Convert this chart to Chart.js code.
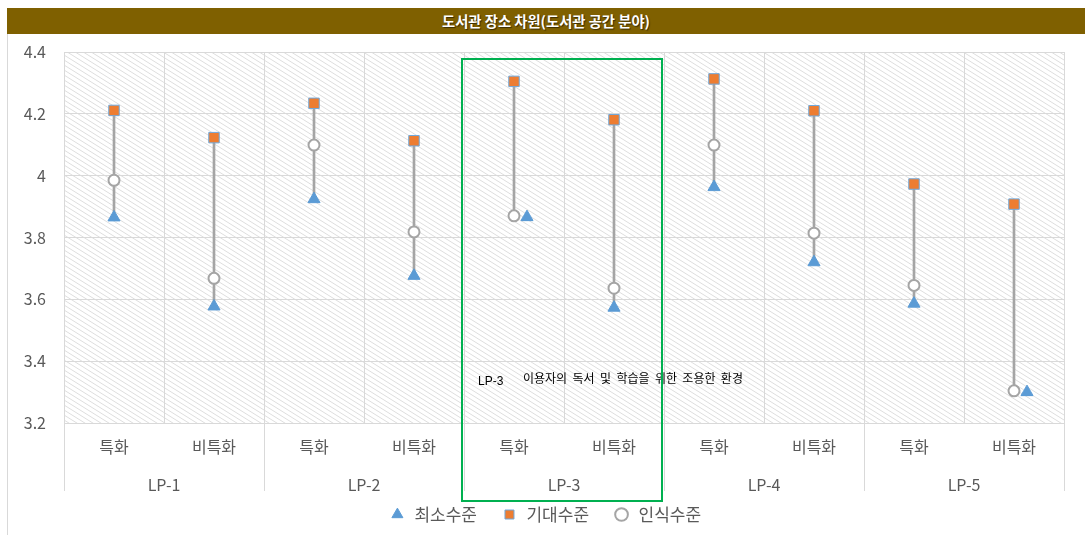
<!DOCTYPE html>
<html><head><meta charset="utf-8">
<script src="https://cdn.jsdelivr.net/npm/chart.js@4"></script>
<style>
body{margin:0;background:#fff;width:1085px;height:535px;overflow:hidden;position:relative;font-family:"Noto Sans CJK KR";}
#frame{position:absolute;left:7px;top:8px;width:1078px;height:527px;border-left:1px solid #d9d9d9;box-sizing:border-box;}
#title{position:absolute;left:7px;top:8px;width:1078px;height:26px;background:#7f6000;color:#fff;font:bold 14.3px "Noto Sans CJK KR";text-align:center;line-height:26px;text-shadow:1px 1px 1px rgba(0,0,0,0.55);z-index:2}
#wrap{position:absolute;left:0;top:0;width:1085px;height:535px;}
</style></head>
<body>
<div id="frame"></div>
<div id="wrap"><canvas id="c"></canvas></div>
<div id="title">도서관 장소 차원(도서관 공간 분야)</div>
<script>
// ---- data ----
const groups = ['LP-1','LP-2','LP-3','LP-4','LP-5'];
const subLabels = ['특화','비특화'];
const categories = ['특화','비특화','특화','비특화','특화','비특화','특화','비특화','특화','비특화'];
const seriesNames = ['최소수준','기대수준','인식수준'];
const minimumLevel  = [3.865,3.577,3.924,3.676,3.866,3.573,3.963,3.720,3.586,3.300];
const expectedLevel = [4.211,4.123,4.234,4.113,4.305,4.181,4.313,4.210,3.973,3.908];
const perceivedLevel= [3.985,3.668,4.099,3.818,3.870,3.636,4.099,3.814,3.645,3.304];
const yTicks = [3.2,3.4,3.6,3.8,4.0,4.2,4.4];
const noteLabel = 'LP-3';
const noteText = '이용자의 독서 및 학습을 위한 조용한 환경';

// ---- styles ----
const BLUE = '#5b9bd5', ORANGE = '#ed7d31', GRAY = '#a5a5a5', GRID = '#d9d9d9', TXT = '#595959';
const FONT = '"Noto Sans CJK KR", "Noto Sans", sans-serif';
const TRI_R = 7;

function shiftedTriangle(r, off){
  const c = document.createElement('canvas');
  c.width = 2*(off + r + 2); c.height = 2*(r + 2);
  const g = c.getContext('2d');
  const cx = c.width/2 + off, cy = c.height/2;
  g.beginPath();
  g.moveTo(cx, cy - r);
  g.lineTo(cx + 0.866*r, cy + 0.5*r);
  g.lineTo(cx - 0.866*r, cy + 0.5*r);
  g.closePath();
  g.fillStyle = BLUE; g.fill();
  g.lineWidth = 1; g.strokeStyle = BLUE; g.stroke();
  return c;
}
const shiftedTri = shiftedTriangle(TRI_R, 13);

const rangeData = expectedLevel.map((e,i)=>[Math.min(minimumLevel[i], perceivedLevel[i]), e]);

function makePattern(ctx){
  const t = document.createElement('canvas');
  t.width = 8; t.height = 5;
  const g = t.getContext('2d');
  g.fillStyle = '#ffffff'; g.fillRect(0,0,8,5);
  g.strokeStyle = '#dedede'; g.lineWidth = 1;
  g.beginPath();
  g.moveTo(-8,-5); g.lineTo(16,10);
  g.moveTo(-8,0); g.lineTo(8,10);
  g.moveTo(0,-5); g.lineTo(16,5);
  g.stroke();
  return ctx.createPattern(t, 'repeat');
}

const hatchPlugin = {
  id: 'hatch',
  afterLayout(chart){
    const l = chart.legend;
    if (l) { l.left += 9; l.right += 9; l.top += 6; l.bottom += 6; }
  },
  beforeDraw(chart){
    const {ctx, chartArea:a} = chart;
    ctx.save();
    ctx.fillStyle = makePattern(ctx);
    ctx.fillRect(a.left, a.top, a.right-a.left, a.bottom-a.top);
    ctx.restore();
  }
};

const extrasPlugin = {
  id: 'extras',
  afterDraw(chart){
    const {ctx, chartArea:a, scales} = chart;
    const x = scales.x, y = scales.y;
    const cw = x.getPixelForValue(1) - x.getPixelForValue(0);
    ctx.save();
    // group separators in label area
    ctx.strokeStyle = GRID; ctx.lineWidth = 1;
    for (let gI = 0; gI <= groups.length; gI++){
      const px = Math.round(x.getPixelForValue(gI*2) - cw/2) + 0.5;
      ctx.beginPath(); ctx.moveTo(px, a.bottom); ctx.lineTo(px, a.bottom + 68); ctx.stroke();
    }
    // group labels
    ctx.fillStyle = TXT;
    ctx.font = '16px ' + FONT;
    ctx.textAlign = 'center';
    ctx.textBaseline = 'middle';
    groups.forEach((gname, gI) => {
      const px = (x.getPixelForValue(gI*2) + x.getPixelForValue(gI*2+1)) / 2;
      ctx.fillText(gname, px, a.bottom + 62);
    });
    // annotation
    const cx = x.getPixelForValue(4);
    ctx.fillStyle = '#000';
    ctx.textAlign = 'left';
    ctx.font = '12px "Liberation Sans", Arial, sans-serif';
    ctx.fillText(noteLabel, cx - 36, y.getPixelForValue(3.335));
    ctx.font = '12px ' + FONT;
    ctx.fillText(noteText.split(' ').join('  '), cx + 9, y.getPixelForValue(3.345));
    // highlight box
    const gi = groups.indexOf(noteLabel);
    const left = x.getPixelForValue(gi*2) - cw/2 - 2;
    const right = x.getPixelForValue(gi*2+1) + cw/2 - 2;
    ctx.strokeStyle = '#00b050'; ctx.lineWidth = 2;
    ctx.strokeRect(left, a.top + 7, right-left, a.bottom + 78 - (a.top + 7));
    ctx.restore();
  }
};

new Chart(document.getElementById('c'), {
  type: 'bar',
  data: {
    labels: categories,
    datasets: [
      { type:'line', label: seriesNames[0], data: minimumLevel, showLine:false, order:0,
        pointStyle: ctx => (ctx.dataIndex !== undefined && Math.abs(minimumLevel[ctx.dataIndex]-perceivedLevel[ctx.dataIndex]) < 0.02) ? shiftedTri : 'triangle',
        pointRadius: TRI_R, pointBackgroundColor: BLUE, pointBorderColor: BLUE, pointBorderWidth: 1,
        backgroundColor: BLUE, borderColor: BLUE },
      { type:'line', label: seriesNames[1], data: expectedLevel, showLine:false, order:0,
        pointStyle:'rect', pointRadius: 7.4, pointBackgroundColor: ORANGE, pointBorderColor: '#6fa8dc', pointBorderWidth: 1,
        backgroundColor: ORANGE, borderColor: '#6fa8dc' },
      { type:'line', label: seriesNames[2], data: perceivedLevel, showLine:false, order:0,
        pointStyle:'circle', pointRadius: 5.5, pointBackgroundColor: '#ffffff', pointBorderColor: GRAY, pointBorderWidth: 2,
        backgroundColor: '#ffffff', borderColor: GRAY },
      { type:'bar', label:'range', data: rangeData, backgroundColor: GRAY, barThickness: 2, order: 1 }
    ]
  },
  options: {
    responsive: true, maintainAspectRatio: false, animation: false,
    layout: { padding: { left: 8, right: 21, top: 52, bottom: 8 } },
    scales: {
      y: {
        min: 3.2, max: 4.4,
        afterBuildTicks: s => { s.ticks = yTicks.map(v => ({value: v})); },
        afterFit: s => { s.width = 56; },
        ticks: { color: TXT, font: { family: FONT, size: 16 }, padding: 18, callback: v => String(+(+v).toFixed(1)) },
        grid: { color: GRID, drawTicks: false },
        border: { display: false }
      },
      x: {
        afterFit: s => { s.height = 53; },
        ticks: { color: TXT, font: { family: FONT, size: 16 }, padding: 14, maxRotation: 0, autoSkip: false },
        grid: { color: GRID, drawTicks: false },
        border: { color: GRID }
      }
    },
    plugins: {
      legend: {
        position: 'bottom',
        labels: { usePointStyle: true, boxHeight: 9, color: TXT, font: { family: FONT, size: 17 }, padding: 24,
          filter: item => item.datasetIndex < 3 }
      },
      tooltip: { enabled: false },
      title: { display: false }
    }
  },
  plugins: [hatchPlugin, extrasPlugin]
});
</script>
</body></html>
